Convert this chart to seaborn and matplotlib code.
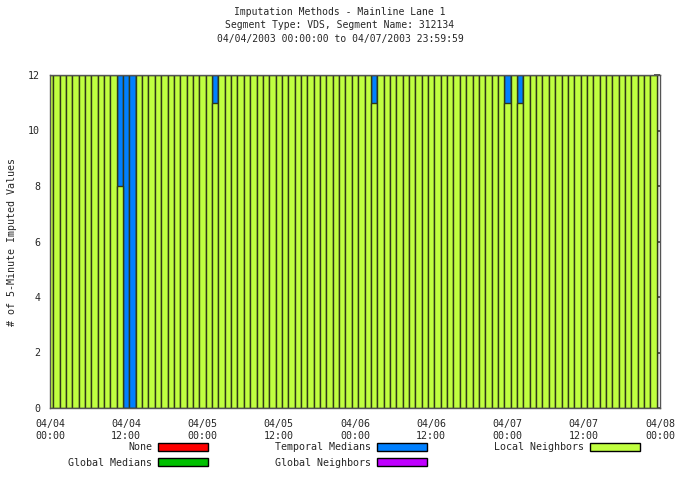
import numpy as np
import pandas as pd
import matplotlib
matplotlib.use("Agg")
import matplotlib.pyplot as plt
import seaborn as sns
from matplotlib.patches import Patch

# -------------------------------
# data: hourly counts of 5-minute imputed values (04/04 00:00 .. 04/07 23:00)
# -------------------------------
hours = list(range(96))

local_neighbors = [
    12, 12, 12, 12, 12, 12, 12, 12, 12, 12, 12, 8,
    0, 0, 12, 12, 12, 12, 12, 12, 12, 12, 12, 12,
    12, 12, 11, 12, 12, 12, 12, 12, 12, 12, 12, 12,
    12, 12, 12, 12, 12, 12, 12, 12, 12, 12, 12, 12,
    12, 12, 12, 11, 12, 12, 12, 12, 12, 12, 12, 12,
    12, 12, 12, 12, 12, 12, 12, 12, 12, 12, 12, 12,
    11, 12, 11, 12, 12, 12, 12, 12, 12, 12, 12, 12,
    12, 12, 12, 12, 12, 12, 12, 12, 12, 12, 12, 12,
]
temporal_medians = [
    0, 0, 0, 0, 0, 0, 0, 0, 0, 0, 0, 4,
    12, 12, 0, 0, 0, 0, 0, 0, 0, 0, 0, 0,
    0, 0, 1, 0, 0, 0, 0, 0, 0, 0, 0, 0,
    0, 0, 0, 0, 0, 0, 0, 0, 0, 0, 0, 0,
    0, 0, 0, 1, 0, 0, 0, 0, 0, 0, 0, 0,
    0, 0, 0, 0, 0, 0, 0, 0, 0, 0, 0, 0,
    1, 0, 1, 0, 0, 0, 0, 0, 0, 0, 0, 0,
    0, 0, 0, 0, 0, 0, 0, 0, 0, 0, 0, 0,
]

tick_hours = [0, 12, 24, 36, 48, 60, 72, 84, 96]
tick_labels = ["04/04\n00:00", "04/04\n12:00", "04/05\n00:00", "04/05\n12:00",
               "04/06\n00:00", "04/06\n12:00", "04/07\n00:00", "04/07\n12:00",
               "04/08\n00:00"]

methods = ["None", "Global Medians", "Temporal Medians", "Global Neighbors", "Local Neighbors"]
colors = ["#ff0000", "#00c000", "#0080ff", "#c000ff", "#c0ff40"]

df = pd.DataFrame({"hour": hours, "local": local_neighbors, "temporal": temporal_medians})
df["total"] = df["local"] + df["temporal"]

# -------------------------------
# plot
# -------------------------------
sns.set_theme(style="white")
plt.rcParams["font.family"] = ["DejaVu Sans Mono"]
fs = 7.2

fig = plt.figure(figsize=(6.8, 5.04), dpi=100)
ax = fig.add_axes([50 / 680, 1 - 408 / 504, 610 / 680, 333 / 504])

# stacked: total in blue first, local neighbors drawn over it from 0
sns.barplot(data=df, x="hour", y="total", native_scale=True, color=colors[2],
            saturation=1, width=1, edgecolor="#303818", linewidth=1, ax=ax)
sns.barplot(data=df, x="hour", y="local", native_scale=True, color=colors[4],
            saturation=1, width=1, edgecolor="#303818", linewidth=1, ax=ax)

ax.set_xlim(0, 96)
ax.set_ylim(0, 12)
ax.set_yticks(range(0, 13, 2))
ax.set_xticks(tick_hours)
ax.set_xticklabels(tick_labels, linespacing=1.25)
ax.set_xlabel("")
ax.set_ylabel("# of 5-Minute Imputed Values", fontsize=fs, labelpad=8)
ax.tick_params(axis="both", labelsize=fs, direction="in", length=4, right=True,
               top=False, color="#444444")
ax.tick_params(axis="y", pad=7)
ax.tick_params(axis="x", pad=8)
for sp in ax.spines.values():
    sp.set_color("#555555")
    sp.set_linewidth(1)

fig.text(0.5, 1 - 12 / 504, "Imputation Methods - Mainline Lane 1", ha="center", va="center", fontsize=7)
fig.text(0.5, 1 - 25 / 504, "Segment Type: VDS, Segment Name: 312134", ha="center", va="center", fontsize=7)
fig.text(0.5, 1 - 39 / 504, "04/04/2003 00:00:00 to 04/07/2003 23:59:59", ha="center", va="center", fontsize=7)

handles = [Patch(facecolor=c, edgecolor="black", linewidth=1) for c in colors]
fig.legend(handles, methods, ncol=3, markerfirst=False, frameon=False, fontsize=fs,
           loc="center", bbox_to_anchor=(0.5 + 14 / 680, 1 - 455 / 504),
           handlelength=5, handleheight=0.8, columnspacing=6.7, labelspacing=0.55,
           handletextpad=0.6)

fig.savefig("out.png", dpi=100)
